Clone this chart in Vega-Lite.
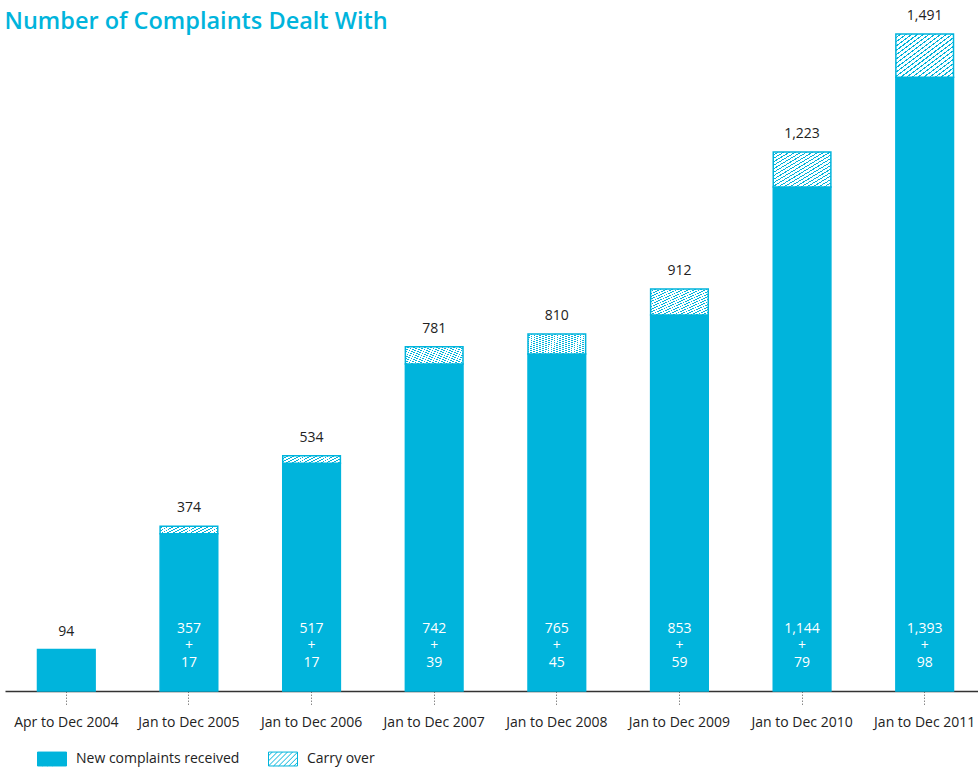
{
  "$schema": "https://vega.github.io/schema/vega-lite/v6.json",
  "width": 981,
  "height": 661,
  "autosize": {"type": "none"},
  "padding": {"left": 5, "top": 30, "right": 0, "bottom": 80},
  "background": "white",
  "config": {"view": {"stroke": null}, "font": "Open Sans"},
  "data": {"values": [
    {"period": "Apr to Dec 2004", "new": 94, "carry": 0, "total": 94},
    {"period": "Jan to Dec 2005", "new": 357, "carry": 17, "total": 374},
    {"period": "Jan to Dec 2006", "new": 517, "carry": 17, "total": 534},
    {"period": "Jan to Dec 2007", "new": 742, "carry": 39, "total": 781},
    {"period": "Jan to Dec 2008", "new": 765, "carry": 45, "total": 810},
    {"period": "Jan to Dec 2009", "new": 853, "carry": 59, "total": 912},
    {"period": "Jan to Dec 2010", "new": 1144, "carry": 79, "total": 1223},
    {"period": "Jan to Dec 2011", "new": 1393, "carry": 98, "total": 1491}
  ]},
  "encoding": {
    "x": {"field": "period", "type": "nominal", "sort": null, "title": null,
      "scale": {"paddingInner": 0.53, "paddingOuter": 0.265},
      "axis": {"labelAngle": 0, "labelFont": "Open Sans", "labelFontSize": 14, "labelColor": "#222222", "labelPadding": 9,
        "domainColor": "#333333", "domainWidth": 1.5, "tickColor": "#888888", "tickSize": 15, "tickDash": [1.5, 1.5], "tickWidth": 1}}
  },
  "layer": [
    {
      "mark": {"type": "bar", "stroke": "#00b4dc", "strokeWidth": 1.5},
      "encoding": {
        "y": {"field": "new", "type": "quantitative", "scale": {"domain": [0, 1500], "nice": false, "zero": true},
          "axis": {"title": "Number of Complaints Dealt With", "domain": false, "ticks": false, "labels": false, "grid": false,
            "titleAngle": 0, "titleX": -1, "titleY": -2, "titleAlign": "left", "titleBaseline": "alphabetic",
            "titleFont": "Open Sans", "titleFontSize": 23.5, "titleFontWeight": 600, "titleColor": "#00b4dc"}},
        "color": {"datum": "New complaints received", "type": "nominal",
          "scale": {"domain": ["New complaints received", "Carry over"], "range": ["#00b4dc", "#ffffff"]},
          "legend": {"title": null, "orient": "none", "legendX": 32, "legendY": 714, "direction": "horizontal",
            "symbolType": "M-1,-0.48H1V0.48H-1Z M-1,-0.22L-0.74,-0.48 M-1,0.13L-0.39,-0.48 M-1,0.48L-0.04,-0.48 M-0.65,0.48L0.31,-0.48 M-0.3,0.48L0.66,-0.48 M0.05,0.48L1,-0.47 M0.4,0.48L1,-0.12 M0.75,0.48L1,0.23",
            "symbolSize": 841, "symbolStrokeColor": "#00b4dc", "symbolStrokeWidth": 1,
            "labelFont": "Open Sans", "labelFontSize": 14, "labelColor": "#222222", "labelOffset": 9, "columnPadding": 26, "labelLimit": 300,
            "encode": {"symbols": {"update": {
              "stroke": {"value": "#00b4dc"},
              "strokeWidth": {"value": 1}}}}
          }
        }
      }
    },
    {
      "transform": [{"filter": "datum.carry > 0"}],
      "mark": {"type": "bar", "stroke": "#00b4dc", "strokeWidth": 1.5,
        "fill": {"gradient": "linear", "x1": 0, "y1": 0, "x2": 1, "y2": 1, "stops": [
              {"offset": 0, "color": "#ffffff"}, {"offset": 0.035, "color": "#ffffff"}, {"offset": 0.035, "color": "#00b4dc"}, {"offset": 0.05, "color": "#00b4dc"},
              {"offset": 0.05, "color": "#ffffff"}, {"offset": 0.085, "color": "#ffffff"}, {"offset": 0.085, "color": "#00b4dc"}, {"offset": 0.1, "color": "#00b4dc"},
              {"offset": 0.1, "color": "#ffffff"}, {"offset": 0.135, "color": "#ffffff"}, {"offset": 0.135, "color": "#00b4dc"}, {"offset": 0.15, "color": "#00b4dc"},
              {"offset": 0.15, "color": "#ffffff"}, {"offset": 0.185, "color": "#ffffff"}, {"offset": 0.185, "color": "#00b4dc"}, {"offset": 0.2, "color": "#00b4dc"},
              {"offset": 0.2, "color": "#ffffff"}, {"offset": 0.235, "color": "#ffffff"}, {"offset": 0.235, "color": "#00b4dc"}, {"offset": 0.25, "color": "#00b4dc"},
              {"offset": 0.25, "color": "#ffffff"}, {"offset": 0.285, "color": "#ffffff"}, {"offset": 0.285, "color": "#00b4dc"}, {"offset": 0.3, "color": "#00b4dc"},
              {"offset": 0.3, "color": "#ffffff"}, {"offset": 0.335, "color": "#ffffff"}, {"offset": 0.335, "color": "#00b4dc"}, {"offset": 0.35, "color": "#00b4dc"},
              {"offset": 0.35, "color": "#ffffff"}, {"offset": 0.385, "color": "#ffffff"}, {"offset": 0.385, "color": "#00b4dc"}, {"offset": 0.4, "color": "#00b4dc"},
              {"offset": 0.4, "color": "#ffffff"}, {"offset": 0.435, "color": "#ffffff"}, {"offset": 0.435, "color": "#00b4dc"}, {"offset": 0.45, "color": "#00b4dc"},
              {"offset": 0.45, "color": "#ffffff"}, {"offset": 0.485, "color": "#ffffff"}, {"offset": 0.485, "color": "#00b4dc"}, {"offset": 0.5, "color": "#00b4dc"},
              {"offset": 0.5, "color": "#ffffff"}, {"offset": 0.535, "color": "#ffffff"}, {"offset": 0.535, "color": "#00b4dc"}, {"offset": 0.55, "color": "#00b4dc"},
              {"offset": 0.55, "color": "#ffffff"}, {"offset": 0.585, "color": "#ffffff"}, {"offset": 0.585, "color": "#00b4dc"}, {"offset": 0.6, "color": "#00b4dc"},
              {"offset": 0.6, "color": "#ffffff"}, {"offset": 0.635, "color": "#ffffff"}, {"offset": 0.635, "color": "#00b4dc"}, {"offset": 0.65, "color": "#00b4dc"},
              {"offset": 0.65, "color": "#ffffff"}, {"offset": 0.685, "color": "#ffffff"}, {"offset": 0.685, "color": "#00b4dc"}, {"offset": 0.7, "color": "#00b4dc"},
              {"offset": 0.7, "color": "#ffffff"}, {"offset": 0.735, "color": "#ffffff"}, {"offset": 0.735, "color": "#00b4dc"}, {"offset": 0.75, "color": "#00b4dc"},
              {"offset": 0.75, "color": "#ffffff"}, {"offset": 0.785, "color": "#ffffff"}, {"offset": 0.785, "color": "#00b4dc"}, {"offset": 0.8, "color": "#00b4dc"},
              {"offset": 0.8, "color": "#ffffff"}, {"offset": 0.835, "color": "#ffffff"}, {"offset": 0.835, "color": "#00b4dc"}, {"offset": 0.85, "color": "#00b4dc"},
              {"offset": 0.85, "color": "#ffffff"}, {"offset": 0.885, "color": "#ffffff"}, {"offset": 0.885, "color": "#00b4dc"}, {"offset": 0.9, "color": "#00b4dc"},
              {"offset": 0.9, "color": "#ffffff"}, {"offset": 0.935, "color": "#ffffff"}, {"offset": 0.935, "color": "#00b4dc"}, {"offset": 0.95, "color": "#00b4dc"},
              {"offset": 0.95, "color": "#ffffff"}, {"offset": 0.985, "color": "#ffffff"}, {"offset": 0.985, "color": "#00b4dc"}, {"offset": 1, "color": "#00b4dc"}
            ]}},
      "encoding": {
        "y": {"field": "total", "type": "quantitative"},
        "y2": {"field": "new"}
      }
    },
    {
      "mark": {"type": "text", "baseline": "alphabetic", "dy": -14, "fontSize": 14, "color": "#222222", "font": "Open Sans"},
      "encoding": {
        "y": {"field": "total", "type": "quantitative"},
        "text": {"field": "total", "type": "quantitative", "format": ","}
      }
    },
    {
      "transform": [{"filter": "datum.carry > 0"}],
      "mark": {"type": "text", "baseline": "middle", "fontSize": 14, "color": "#ffffff", "font": "Open Sans"},
      "encoding": {
        "y": {"datum": 140.7},
        "text": {"field": "new", "type": "quantitative", "format": ","}
      }
    },
    {
      "transform": [{"filter": "datum.carry > 0"}],
      "mark": {"type": "text", "baseline": "middle", "fontSize": 14, "color": "#ffffff", "font": "Open Sans"},
      "encoding": {
        "y": {"datum": 102.1},
        "text": {"value": "+"}
      }
    },
    {
      "transform": [{"filter": "datum.carry > 0"}],
      "mark": {"type": "text", "baseline": "middle", "fontSize": 14, "color": "#ffffff", "font": "Open Sans"},
      "encoding": {
        "y": {"datum": 63.5},
        "text": {"field": "carry", "type": "quantitative", "format": ","}
      }
    }
  ]
}
